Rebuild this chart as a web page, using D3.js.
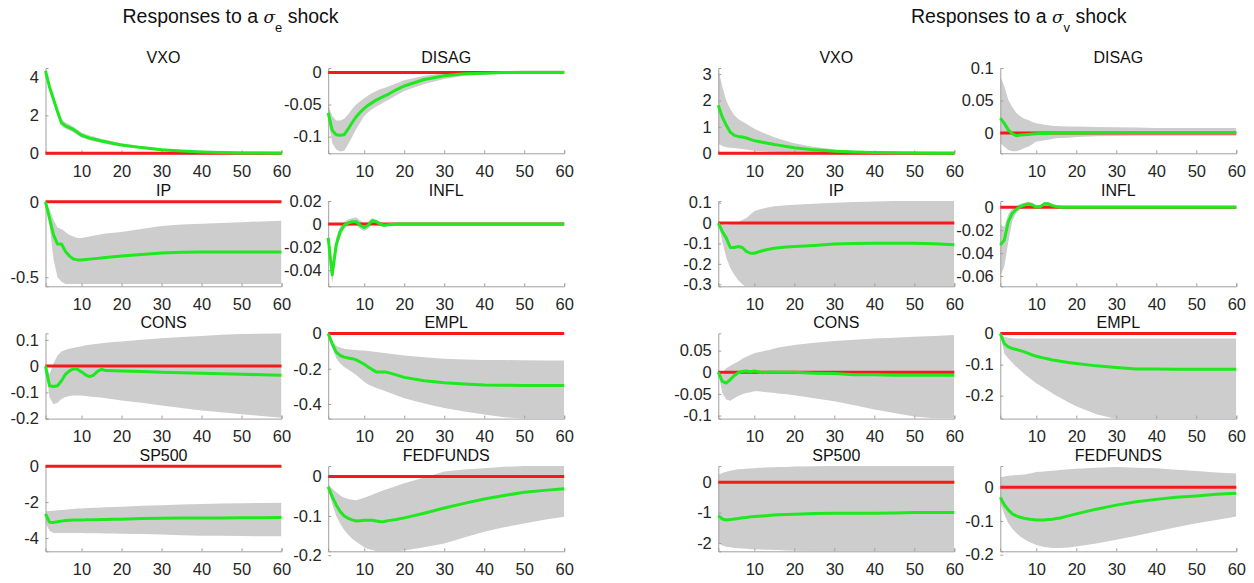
<!DOCTYPE html>
<html><head><meta charset="utf-8">
<script src="https://cdn.jsdelivr.net/npm/d3@7"></script>
<style>body{margin:0;background:#fff} svg{display:block}</style>
</head><body>
<svg id="c" width="1254" height="583"></svg>
<script>
// horizons (months) at which values were read
const horizons = [1,2,3,4,5,6,7,8,9,10,11,12,13,14,15,16,18,20,25,30,35,40,45,50,55,60];
const xTickValues = [10,20,30,40,50,60];
const suptitles = [["Responses to a ", "σ", "e", " shock"], ["Responses to a ", "σ", "v", " shock"]];

// ---- sigma_e shock ----
const vxoE_irf = [4.35,3.5,2.85,2.2,1.6,1.45,1.35,1.25,1.1,0.95,0.88,0.8,0.75,0.7,0.65,0.61,0.52,0.44,0.3,0.19,0.12,0.07,0.04,0.02,0.01,0];
const vxoE_hi  = [4.5,3.7,3.05,2.4,1.8,1.62,1.52,1.4,1.25,1.1,1.02,0.94,0.88,0.82,0.77,0.72,0.62,0.53,0.37,0.25,0.16,0.1,0.06,0.03,0.02,0.01];
const vxoE_lo  = [4.2,3.3,2.65,2.0,1.45,1.3,1.2,1.1,0.97,0.83,0.76,0.69,0.64,0.59,0.55,0.51,0.43,0.36,0.24,0.14,0.08,0.04,0.02,0.01,0,-0.01];
const vxoE_ticks = [0,2,4];

const disagE_irf = [-0.063,-0.09,-0.097,-0.098,-0.097,-0.088,-0.078,-0.069,-0.062,-0.056,-0.051,-0.047,-0.043,-0.04,-0.037,-0.034,-0.027,-0.021,-0.011,-0.005,-0.002,-0.001,0,0,0,0];
const disagE_hi  = [-0.05,-0.068,-0.075,-0.075,-0.072,-0.065,-0.057,-0.05,-0.045,-0.04,-0.036,-0.032,-0.029,-0.026,-0.024,-0.022,-0.017,-0.012,-0.005,-0.001,0.001,0.002,0.002,0.003,0.003,0.003];
const disagE_lo  = [-0.075,-0.11,-0.12,-0.123,-0.122,-0.112,-0.1,-0.088,-0.078,-0.068,-0.062,-0.057,-0.053,-0.05,-0.046,-0.043,-0.036,-0.029,-0.018,-0.01,-0.005,-0.003,-0.002,-0.002,-0.002,-0.002];
const disagE_ticks = [-0.1,-0.05,0];

const ipE_irf = [0,-0.11,-0.22,-0.28,-0.28,-0.33,-0.36,-0.38,-0.385,-0.385,-0.383,-0.38,-0.378,-0.375,-0.372,-0.37,-0.365,-0.36,-0.35,-0.34,-0.335,-0.333,-0.332,-0.332,-0.333,-0.333];
const ipE_hi  = [0,-0.05,-0.12,-0.17,-0.18,-0.2,-0.22,-0.23,-0.24,-0.24,-0.235,-0.23,-0.225,-0.22,-0.215,-0.21,-0.205,-0.2,-0.18,-0.16,-0.15,-0.145,-0.14,-0.135,-0.13,-0.125];
const ipE_lo  = [0,-0.15,-0.38,-0.5,-0.53,-0.545,-0.545,-0.545,-0.545,-0.545,-0.545,-0.545,-0.545,-0.545,-0.545,-0.545,-0.545,-0.545,-0.545,-0.545,-0.545,-0.545,-0.545,-0.545,-0.545,-0.545];
const ipE_ticks = [-0.5,0];

const inflE_irf = [-0.012,-0.044,-0.018,-0.0065,-0.001,0.001,0.002,0.002,-0.001,-0.003,-0.001,0.003,0.002,0,-0.001,-0.0005,0,0,0,0,0,0,0,0,0,0];
const inflE_hi  = [-0.006,-0.036,-0.012,-0.002,0.002,0.004,0.005,0.006,0.003,0.001,0.002,0.005,0.004,0.002,0.001,0.001,0.001,0.001,0.001,0.001,0.001,0.001,0.001,0.001,0.001,0.001];
const inflE_lo  = [-0.018,-0.052,-0.024,-0.011,-0.004,-0.002,-0.001,-0.001,-0.004,-0.006,-0.004,0,-0.001,-0.002,-0.003,-0.002,-0.001,-0.001,-0.001,-0.001,-0.001,-0.001,-0.001,-0.001,-0.001,-0.001];
const inflE_ticks = [-0.04,-0.02,0,0.02];

const consE_irf = [0,-0.075,-0.078,-0.075,-0.056,-0.031,-0.018,-0.01,-0.012,-0.022,-0.033,-0.04,-0.035,-0.02,-0.012,-0.017,-0.018,-0.019,-0.021,-0.023,-0.025,-0.027,-0.029,-0.031,-0.033,-0.035];
const consE_hi  = [0,-0.03,0.01,0.04,0.056,0.062,0.066,0.07,0.073,0.076,0.079,0.081,0.083,0.085,0.087,0.089,0.092,0.094,0.1,0.106,0.111,0.115,0.119,0.122,0.124,0.125];
const consE_lo  = [0,-0.12,-0.145,-0.14,-0.125,-0.118,-0.114,-0.112,-0.112,-0.112,-0.114,-0.116,-0.118,-0.119,-0.12,-0.122,-0.126,-0.131,-0.14,-0.15,-0.16,-0.169,-0.176,-0.183,-0.19,-0.197];
const consE_ticks = [-0.2,-0.1,0,0.1];

const emplE_irf = [0,-0.059,-0.106,-0.125,-0.134,-0.139,-0.143,-0.15,-0.162,-0.175,-0.19,-0.205,-0.218,-0.218,-0.218,-0.222,-0.235,-0.249,-0.268,-0.279,-0.286,-0.292,-0.294,-0.295,-0.295,-0.295];
const emplE_hi  = [0,-0.04,-0.07,-0.08,-0.087,-0.09,-0.092,-0.094,-0.096,-0.097,-0.099,-0.102,-0.105,-0.108,-0.111,-0.114,-0.119,-0.125,-0.135,-0.143,-0.147,-0.15,-0.151,-0.152,-0.153,-0.153];
const emplE_lo  = [0,-0.08,-0.14,-0.17,-0.19,-0.205,-0.22,-0.235,-0.255,-0.274,-0.29,-0.3,-0.31,-0.317,-0.325,-0.333,-0.35,-0.367,-0.398,-0.423,-0.443,-0.46,-0.475,-0.484,-0.49,-0.49];
const emplE_ticks = [-0.4,-0.2,0];

const spE_irf = [-2.66,-3.12,-3.13,-3.1,-3.06,-3.03,-3.01,-3.0,-3.0,-3.0,-2.99,-2.99,-2.98,-2.98,-2.97,-2.97,-2.96,-2.95,-2.92,-2.9,-2.89,-2.88,-2.88,-2.87,-2.87,-2.86];
const spE_hi  = [-2.53,-2.5,-2.48,-2.46,-2.44,-2.42,-2.4,-2.38,-2.36,-2.35,-2.34,-2.33,-2.32,-2.31,-2.3,-2.29,-2.28,-2.26,-2.21,-2.17,-2.14,-2.11,-2.08,-2.06,-2.05,-2.04];
const spE_lo  = [-3.17,-3.6,-3.72,-3.72,-3.72,-3.72,-3.72,-3.72,-3.72,-3.72,-3.73,-3.73,-3.74,-3.74,-3.74,-3.75,-3.75,-3.76,-3.78,-3.81,-3.84,-3.87,-3.88,-3.89,-3.9,-3.9];
const spE_ticks = [-4,-2,0];

const ffE_irf = [-0.026,-0.051,-0.072,-0.089,-0.1,-0.106,-0.11,-0.113,-0.112,-0.111,-0.111,-0.111,-0.113,-0.115,-0.114,-0.112,-0.109,-0.105,-0.093,-0.08,-0.068,-0.057,-0.048,-0.04,-0.035,-0.031];
const ffE_hi  = [-0.02,-0.03,-0.04,-0.048,-0.054,-0.057,-0.059,-0.06,-0.057,-0.054,-0.05,-0.046,-0.042,-0.038,-0.034,-0.031,-0.024,-0.017,-0.002,0.013,0.018,0.021,0.025,0.027,0.027,0.027];
const ffE_lo  = [-0.03,-0.07,-0.1,-0.12,-0.136,-0.148,-0.158,-0.166,-0.173,-0.18,-0.184,-0.187,-0.189,-0.19,-0.19,-0.19,-0.19,-0.188,-0.18,-0.17,-0.155,-0.14,-0.129,-0.119,-0.11,-0.102];
const ffE_ticks = [-0.2,-0.1,0];

// ---- sigma_v shock ----
const vxoV_irf = [1.82,1.37,1.06,0.8,0.68,0.64,0.62,0.58,0.53,0.48,0.45,0.42,0.39,0.36,0.33,0.31,0.26,0.21,0.13,0.08,0.05,0.03,0.02,0.01,0,0];
const vxoV_hi  = [3.22,2.52,2.0,1.68,1.44,1.3,1.2,1.12,1.02,0.93,0.86,0.79,0.73,0.67,0.61,0.56,0.47,0.38,0.24,0.15,0.09,0.05,0.03,0.02,0.01,0.01];
const vxoV_lo  = [0.36,0.28,0.23,0.21,0.2,0.18,0.16,0.14,0.12,0.1,0.09,0.08,0.07,0.06,0.055,0.05,0.045,0.04,0.02,0.01,0,0,0,0,0,0];
const vxoV_ticks = [0,1,2,3];

const disagV_irf = [0.023,0.015,0.005,-0.001,-0.004,-0.003,-0.0025,-0.002,-0.0015,-0.001,-0.0005,-0.0005,-0.0005,0,0,0,0,0,0.0005,0.001,0.001,0.001,0.001,0.001,0.001,0.001];
const disagV_hi  = [0.087,0.072,0.051,0.04,0.031,0.026,0.022,0.02,0.017,0.015,0.014,0.013,0.012,0.0115,0.011,0.0105,0.01,0.01,0.0095,0.009,0.0085,0.008,0.008,0.008,0.008,0.0077];
const disagV_lo  = [-0.015,-0.021,-0.026,-0.028,-0.028,-0.026,-0.023,-0.021,-0.017,-0.013,-0.012,-0.011,-0.01,-0.009,-0.008,-0.0075,-0.007,-0.006,-0.005,-0.0045,-0.004,-0.004,-0.004,-0.004,-0.004,-0.004];
const disagV_ticks = [0,0.05,0.1];

const ipV_irf = [0,-0.041,-0.074,-0.12,-0.12,-0.115,-0.12,-0.139,-0.148,-0.148,-0.142,-0.136,-0.131,-0.127,-0.123,-0.121,-0.118,-0.115,-0.11,-0.103,-0.1,-0.099,-0.099,-0.099,-0.102,-0.106];
const ipV_hi  = [0,-0.005,-0.008,-0.005,0,0.005,0.015,0.025,0.042,0.058,0.065,0.07,0.075,0.079,0.082,0.084,0.087,0.09,0.095,0.1,0.103,0.105,0.108,0.108,0.108,0.108];
const ipV_lo  = [0,-0.09,-0.17,-0.22,-0.254,-0.28,-0.3,-0.315,-0.315,-0.315,-0.315,-0.315,-0.315,-0.315,-0.315,-0.315,-0.315,-0.315,-0.315,-0.315,-0.315,-0.315,-0.315,-0.315,-0.315,-0.315];
const ipV_ticks = [-0.3,-0.2,-0.1,0,0.1];

const inflV_irf = [-0.033,-0.0286,-0.0126,-0.0052,-0.0017,0.0006,0.002,0.003,0.002,0,0.0005,0.003,0.003,0.0015,0.0006,0,0,0,0,0,0,0,0,0,0,0];
const inflV_hi  = [-0.015,-0.017,-0.006,-0.001,0.001,0.003,0.004,0.005,0.004,0.002,0.002,0.0045,0.0045,0.003,0.002,0.0015,0.001,0.001,0.001,0.001,0.001,0.001,0.001,0.001,0.001,0.001];
const inflV_lo  = [-0.06,-0.052,-0.03,-0.012,-0.005,-0.002,-0.0005,0.001,0,-0.002,-0.001,0.001,0.001,0,-0.001,-0.0015,-0.001,-0.001,-0.001,-0.001,-0.001,-0.001,-0.001,-0.001,-0.001,-0.001];
const inflV_ticks = [-0.06,-0.04,-0.02,0];

const consV_irf = [0,-0.021,-0.025,-0.017,-0.0076,-0.001,0.002,0.003,0.001,0.003,0.001,-0.001,0,0.0005,0,0,0,0,-0.002,-0.003,-0.006,-0.006,-0.007,-0.007,-0.007,-0.007];
const consV_hi  = [0,0,0.009,0.015,0.02,0.025,0.031,0.036,0.04,0.044,0.046,0.048,0.05,0.052,0.055,0.057,0.06,0.063,0.068,0.072,0.075,0.078,0.08,0.082,0.084,0.086];
const consV_lo  = [0,-0.048,-0.063,-0.066,-0.06,-0.055,-0.051,-0.048,-0.046,-0.044,-0.044,-0.045,-0.046,-0.047,-0.048,-0.049,-0.051,-0.053,-0.06,-0.067,-0.076,-0.086,-0.094,-0.102,-0.106,-0.107];
const consV_ticks = [-0.1,-0.05,0,0.05];

const emplV_irf = [0,-0.032,-0.043,-0.048,-0.051,-0.055,-0.059,-0.064,-0.069,-0.073,-0.076,-0.079,-0.082,-0.085,-0.087,-0.089,-0.093,-0.096,-0.104,-0.109,-0.114,-0.114,-0.115,-0.115,-0.115,-0.115];
const emplV_hi  = [0,-0.011,-0.013,-0.015,-0.016,-0.016,-0.016,-0.016,-0.016,-0.016,-0.016,-0.016,-0.016,-0.016,-0.016,-0.016,-0.016,-0.016,-0.016,-0.016,-0.016,-0.016,-0.016,-0.016,-0.016,-0.016];
const emplV_lo  = [0,-0.064,-0.08,-0.094,-0.107,-0.118,-0.13,-0.14,-0.15,-0.16,-0.168,-0.176,-0.184,-0.192,-0.2,-0.207,-0.221,-0.234,-0.26,-0.275,-0.275,-0.275,-0.275,-0.275,-0.275,-0.275];
const emplV_ticks = [-0.2,-0.1,0];

const spV_irf = [-1.1,-1.21,-1.24,-1.23,-1.21,-1.19,-1.17,-1.16,-1.14,-1.13,-1.12,-1.11,-1.1,-1.09,-1.08,-1.07,-1.06,-1.05,-1.03,-1.02,-1.02,-1.02,-1.01,-1.0,-1.0,-1.0];
const spV_hi  = [0.24,0.3,0.34,0.37,0.4,0.42,0.43,0.44,0.45,0.46,0.47,0.475,0.48,0.485,0.49,0.495,0.5,0.51,0.52,0.53,0.53,0.53,0.53,0.53,0.53,0.53];
const spV_lo  = [-2.0,-2.08,-2.12,-2.14,-2.16,-2.17,-2.18,-2.19,-2.2,-2.2,-2.21,-2.21,-2.22,-2.22,-2.23,-2.23,-2.24,-2.25,-2.27,-2.28,-2.28,-2.28,-2.28,-2.28,-2.28,-2.28];
const spV_ticks = [-2,-1,0];

const ffV_irf = [-0.03,-0.052,-0.067,-0.079,-0.085,-0.089,-0.092,-0.094,-0.096,-0.097,-0.097,-0.097,-0.096,-0.095,-0.093,-0.091,-0.085,-0.079,-0.065,-0.053,-0.043,-0.036,-0.03,-0.026,-0.021,-0.018];
const ffV_hi  = [0.03,0.032,0.034,0.035,0.036,0.037,0.038,0.04,0.042,0.045,0.046,0.047,0.048,0.049,0.05,0.051,0.053,0.055,0.058,0.06,0.058,0.056,0.052,0.048,0.044,0.041];
const ffV_lo  = [-0.047,-0.08,-0.107,-0.123,-0.136,-0.146,-0.154,-0.161,-0.166,-0.171,-0.174,-0.177,-0.179,-0.18,-0.18,-0.18,-0.179,-0.176,-0.167,-0.156,-0.144,-0.131,-0.119,-0.107,-0.097,-0.087];
const ffV_ticks = [-0.2,-0.1,0];

// ---- panel configuration (layout + axis limits) ----
const panels = [
  {t:"VXO",      m:vxoE_irf,   lo:vxoE_lo,   hi:vxoE_hi,   tk:vxoE_ticks,   yl:[0,4.5],         c:0, r:0},
  {t:"DISAG",    m:disagE_irf, lo:disagE_lo, hi:disagE_hi, tk:disagE_ticks, yl:[-0.126,0.007],  c:1, r:0},
  {t:"IP",       m:ipE_irf,    lo:ipE_lo,    hi:ipE_hi,    tk:ipE_ticks,    yl:[-0.56,0.005],   c:0, r:1},
  {t:"INFL",     m:inflE_irf,  lo:inflE_lo,  hi:inflE_hi,  tk:inflE_ticks,  yl:[-0.054,0.02],   c:1, r:1},
  {t:"CONS",     m:consE_irf,  lo:consE_lo,  hi:consE_hi,  tk:consE_ticks,  yl:[-0.2,0.125],    c:0, r:2},
  {t:"EMPL",     m:emplE_irf,  lo:emplE_lo,  hi:emplE_hi,  tk:emplE_ticks,  yl:[-0.483,0.001],  c:1, r:2},
  {t:"SP500",    m:spE_irf,    lo:spE_lo,    hi:spE_hi,    tk:spE_ticks,    yl:[-4.74,0.01],    c:0, r:3},
  {t:"FEDFUNDS", m:ffE_irf,    lo:ffE_lo,    hi:ffE_hi,    tk:ffE_ticks,    yl:[-0.19,0.027],   c:1, r:3},
  {t:"VXO",      m:vxoV_irf,   lo:vxoV_lo,   hi:vxoV_hi,   tk:vxoV_ticks,   yl:[0,3.23],        c:2, r:0},
  {t:"DISAG",    m:disagV_irf, lo:disagV_lo, hi:disagV_hi, tk:disagV_ticks, yl:[-0.031,0.1],    c:3, r:0},
  {t:"IP",       m:ipV_irf,    lo:ipV_lo,    hi:ipV_hi,    tk:ipV_ticks,    yl:[-0.31,0.108],   c:2, r:1},
  {t:"INFL",     m:inflV_irf,  lo:inflV_lo,  hi:inflV_hi,  tk:inflV_ticks,  yl:[-0.069,0.0055], c:3, r:1},
  {t:"CONS",     m:consV_irf,  lo:consV_lo,  hi:consV_hi,  tk:consV_ticks,  yl:[-0.107,0.09],   c:2, r:2},
  {t:"EMPL",     m:emplV_irf,  lo:emplV_lo,  hi:emplV_hi,  tk:emplV_ticks,  yl:[-0.274,0.001],  c:3, r:2},
  {t:"SP500",    m:spV_irf,    lo:spV_lo,    hi:spV_hi,    tk:spV_ticks,    yl:[-2.27,0.53],    c:2, r:3},
  {t:"FEDFUNDS", m:ffV_irf,    lo:ffV_lo,    hi:ffV_hi,    tk:ffV_ticks,    yl:[-0.19,0.063],   c:3, r:3}
];

const colX = [45.5, 328.2, 718.3, 1000.3];
const rowY = [68, 201, 333.3, 466];
const W = 236, H = 85.3;
const FONT = "'Liberation Sans', Arial, Helvetica, sans-serif";
const BAND = "#cdcdcd", RED = "#f51a1a", GREEN = "#1ee81e", AXIS = "#a0a0a0";

const svg = d3.select("#c");
svg.append("rect").attr("width",1254).attr("height",583).attr("fill","#fff");

// suptitles
const supX = [122.5, 911];
suptitles.forEach((s, i) => {
  const t = svg.append("text").attr("x", supX[i]).attr("y", 23)
    .attr("font-family", FONT).attr("font-size", 19.5).attr("fill", "#111");
  t.append("tspan").text(s[0]);
  t.append("tspan").attr("font-style","italic").attr("font-family","'DejaVu Serif', serif").attr("font-size",17).text(s[1]);
  t.append("tspan").attr("font-size",13).attr("dy",8.5).text(s[2]);
  t.append("tspan").attr("dy",-8.5).text(s[3]);
});

const fmt = v => String(v);

panels.forEach((p, i) => {
  const g = svg.append("g").attr("transform", `translate(${colX[p.c]},${rowY[p.r]})`);
  const x = d3.scaleLinear().domain([1, 60]).range([0, W]);
  const y = d3.scaleLinear().domain(p.yl).range([H, 0]);

  g.append("clipPath").attr("id", "cp" + i)
    .append("rect").attr("x", 0).attr("y", 0).attr("width", W).attr("height", H);

  const area = d3.area()
    .x((d, j) => x(horizons[j]))
    .y0((d, j) => y(p.lo[j]))
    .y1((d, j) => y(p.hi[j]));
  g.append("path").datum(p.m).attr("d", area).attr("fill", BAND)
    .attr("clip-path", `url(#cp${i})`);

  // axes
  const ax = g.append("g").attr("transform", `translate(0,${H})`)
    .call(d3.axisBottom(x).tickValues(xTickValues).tickSize(-3).tickPadding(11.5).tickFormat(fmt));
  const ay = g.append("g")
    .call(d3.axisLeft(y).tickValues(p.tk).tickSize(-3).tickPadding(6.5).tickFormat(fmt));
  [ax, ay].forEach(a => {
    a.select(".domain").attr("stroke", AXIS).attr("stroke-width", 1);
    a.selectAll(".tick line").attr("stroke", AXIS);
    a.selectAll("text").attr("font-family", FONT).attr("font-size", 16.5).attr("fill", "#262626");
  });

  // zero reference line
  const zline = d3.line().x(d => x(d)).y(() => y(0));
  g.append("path").datum([1, 60]).attr("d", zline)
    .attr("fill", "none").attr("stroke", RED).attr("stroke-width", 3);

  // impulse response
  const line = d3.line().x((d, j) => x(horizons[j])).y(d => y(d));
  g.append("path").datum(p.m).attr("d", line)
    .attr("fill", "none").attr("stroke", GREEN).attr("stroke-width", 3)
    .attr("stroke-linejoin", "round");

  g.append("text").attr("x", W / 2).attr("y", -5.5).attr("text-anchor", "middle")
    .attr("font-family", FONT).attr("font-size", 16).attr("fill", "#111").text(p.t);
});
</script>
</body></html>
